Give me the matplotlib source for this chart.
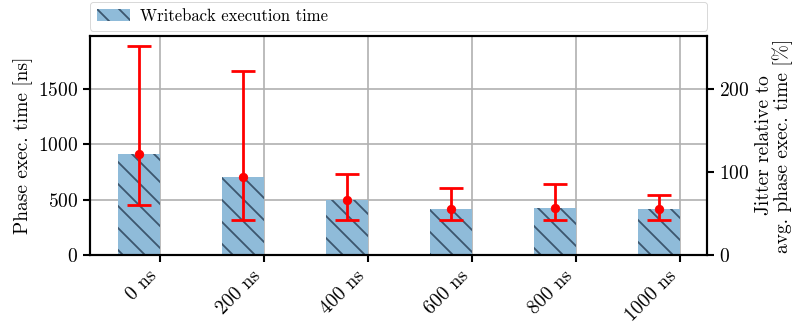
import numpy as np
import matplotlib
matplotlib.use("Agg")
import matplotlib.pyplot as plt

# the figure is drawn at a lower dpi so the hatch spacing matches; every
# size in points is multiplied by S to keep the pixel sizes the same
S = 1.5
DPI = 100 / S

plt.rcParams["font.family"] = "serif"
plt.rcParams["font.serif"] = ["cmr10"]
plt.rcParams["axes.formatter.use_mathtext"] = True
plt.rcParams["mathtext.fontset"] = "cm"
plt.rcParams["hatch.linewidth"] = 1.3 * S

labels = ["0 ns", "200 ns", "400 ns", "600 ns", "800 ns", "1000 ns"]
exec_time = [912, 705, 497, 415, 425, 415]
err_min = [450, 316, 316, 319, 319, 319]
err_max = [1888, 1662, 734, 605, 644, 545]

x = np.arange(len(labels))
mean = np.array(exec_time)
yerr = [mean - np.array(err_min), np.array(err_max) - mean]

fig = plt.figure(figsize=(7.98 * S, 3.23 * S), dpi=DPI)
ax = fig.add_axes([0.1128, 0.2105, 0.773, 0.678])

ax.bar(x - 0.2, exec_time, width=0.4, color="#8fbbd9", edgecolor="#3c566e",
       linewidth=0, hatch="\\", label="Writeback execution time", zorder=2)

ax.errorbar(x - 0.2, exec_time, yerr=yerr, fmt="o", color="red", ecolor="red",
            elinewidth=2 * S, capsize=8.5 * S, capthick=2 * S,
            markersize=6 * S, zorder=3)

ax.set_xlim(-0.673, 5.26)
ax.set_ylim(0, 1978)
ax.set_yticks([0, 500, 1000, 1500])
ax.set_xticks(x)
ax.set_xticklabels(labels, rotation=45, ha="right")
ax.set_ylabel("Phase exec. time [ns]", fontsize=14 * S)
ax.tick_params(labelsize=14 * S, width=1.5 * S, length=5 * S, pad=3.5 * S)
ax.grid(True, color="#b0b0b0", linewidth=1.2 * S, zorder=0)
ax.set_axisbelow(True)
for s in ax.spines.values():
    s.set_linewidth(1.5 * S)

ax2 = ax.twinx()
ax2.set_ylim(0, 264)
ax2.set_yticks([0, 100, 200])
ax2.set_ylabel("Jitter relative to\navg. phase exec. time [%]", fontsize=14 * S,
               linespacing=1.0, labelpad=4 * S)
ax2.tick_params(labelsize=14 * S, width=1.5 * S, length=5 * S, pad=3.5 * S)
for s in ax2.spines.values():
    s.set_linewidth(1.5 * S)

ax.yaxis.labelpad = 4 * S
ax.legend(bbox_to_anchor=(0, 1.025, 1, 0.11), loc="lower left", mode="expand",
          borderaxespad=0, fontsize=12 * S, fancybox=True, handlelength=2.0,
          borderpad=0.4, handletextpad=0.6)

fig.savefig("out.png", dpi=DPI)
